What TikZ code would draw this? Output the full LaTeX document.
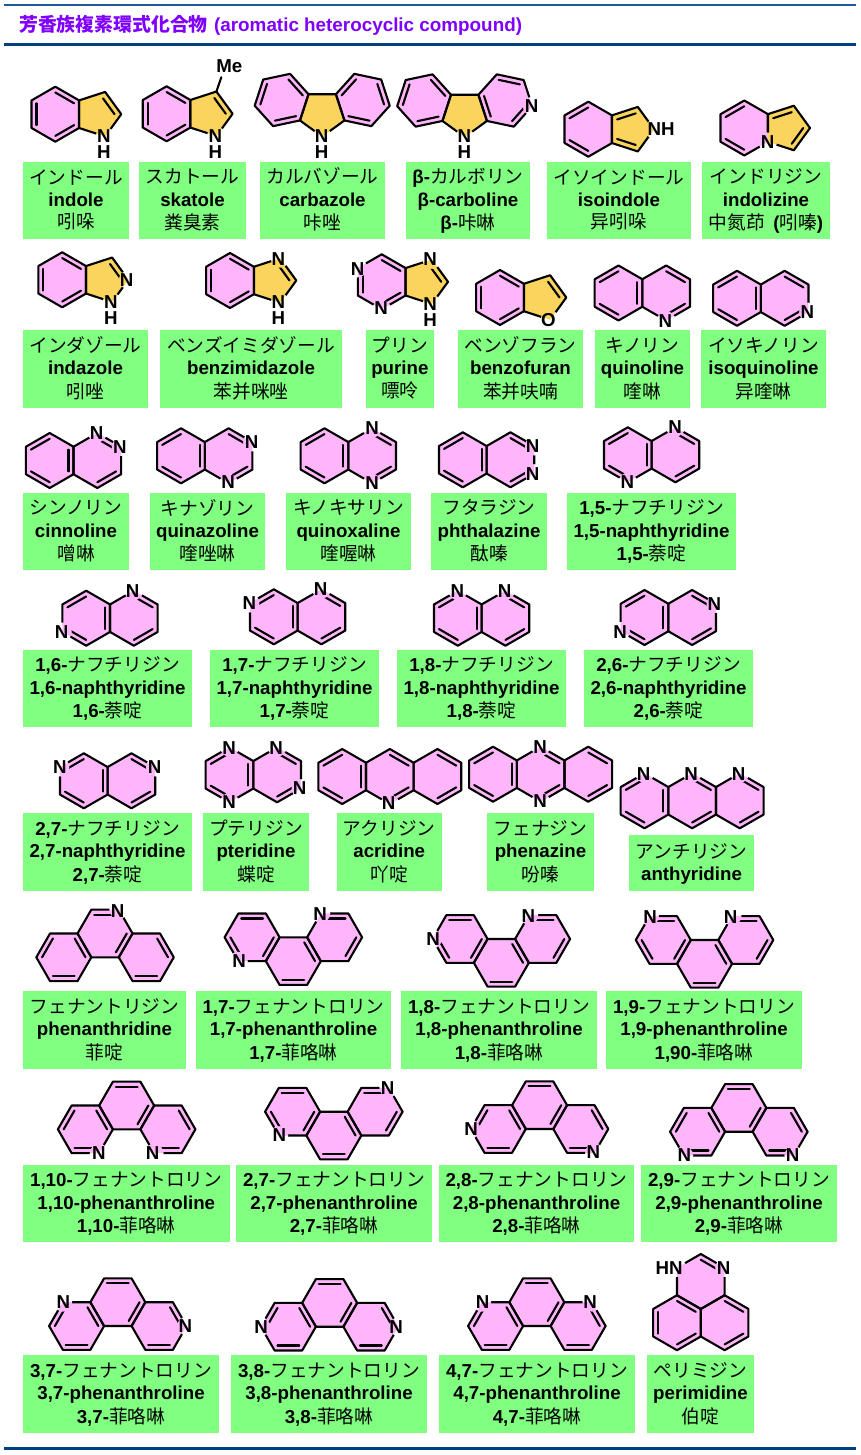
\documentclass[tikz,border=0pt]{standalone}
\usepackage{fontspec}
\usetikzlibrary{calc}
\setmainfont{Liberation Sans}
\newfontfamily\cjkjp{Noto Sans CJK JP}
\newfontfamily\cjkzh{Noto Sans CJK SC}
\definecolor{pinkring}{RGB}{255,181,250}
\definecolor{goldring}{RGB}{250,212,92}
\definecolor{boxgreen}{RGB}{128,255,128}
\definecolor{titlepurple}{RGB}{128,0,255}
\definecolor{ruleA}{RGB}{30,88,150}
\definecolor{ruleB}{RGB}{0,64,128}
\newcommand\J[1]{{\cjkjp\mdseries #1}}
\newcommand\Z[1]{{\cjkzh\mdseries #1}}
\newcount\atomcnt
\tikzset{
 bond/.style={line width=2.1pt,line join=round,line cap=round,black},
 hexfill/.style={fill=pinkring},
 penfill/.style={fill=goldring},
 labelbox/.style={fill=boxgreen,inner sep=0pt,align=center,text=black,font=\fontsize{18.7}{22.3}\selectfont\bfseries},
 atom/.style={inner sep=0pt,text=black,font=\fontsize{18.7}{20}\selectfont\bfseries},
 headrule/.style={line width=2pt,ruleA},
 mainrule/.style={line width=3.4pt,ruleB},
 titletext/.style={inner sep=0pt,anchor=west,text=titlepurple,font=\fontsize{18.85}{22}\selectfont\bfseries}
}
% rings
\newcommand\Hx[4]{%
 \foreach \i in {0,...,5}{\coordinate (#1\i) at ({#2+27.5*cos(#4-60*\i)},{#3-27.5*sin(#4-60*\i)});}%
 \coordinate (#1c) at (#2,#3);%
 \path[hexfill] (#10)--(#11)--(#12)--(#13)--(#14)--(#15)--cycle;}
\newcommand\Pn[4]{%
 \foreach \i in {0,...,4}{\coordinate (#1\i) at ({#2+23.4*cos(#4-72*\i)},{#3-23.4*sin(#4-72*\i)});}%
 \coordinate (#1c) at (#2,#3);%
 \path[penfill] (#10)--(#11)--(#12)--(#13)--(#14)--cycle;}
\newcommand\Oh[1]{\draw[bond] (#10)--(#11)--(#12)--(#13)--(#14)--(#15)--cycle;}
\newcommand\Op[1]{\draw[bond] (#10)--(#11)--(#12)--(#13)--(#14)--cycle;}
\newcommand\Dh[2]{\foreach \i in {#2}{\pgfmathtruncatemacro\j{mod(\i+1,6)}\draw[bond] ($(#1c)!.79!(#1\i)$)--($(#1c)!.79!(#1\j)$);}}
\newcommand\Dp[2]{\foreach \i in {#2}{\pgfmathtruncatemacro\j{mod(\i+1,5)}\draw[bond] ($(#1c)!.71!(#1\i)$)--($(#1c)!.71!(#1\j)$);}}
\newcommand\Cut[1]{(#1) circle[radius=9.5]}
\newcommand\Mol[3]{#1\begin{scope}[even odd rule]\clip (-10,-10) rectangle (871,1465) #2;#3\end{scope}}
\newcommand\At[2]{\global\advance\atomcnt by 1\node[atom] (atom\the\atomcnt) at (#1) {#2};}
% fused skeletons
\newcommand\Naph[3]{\Mol{\Hx{a}{#1}{#2}{90}\Hx{b}{#1+47.63}{#2}{90}}{#3}{\Oh{a}\Oh{b}\Dh{a}{5,3,1}\Dh{b}{0,2}}}
\newcommand\Anth[3]{\Mol{\Hx{a}{#1}{#2}{90}\Hx{b}{#1+47.63}{#2}{90}\Hx{c}{#1+95.26}{#2}{90}}{#3}{\Oh{a}\Oh{b}\Oh{c}\Dh{a}{5,3,1}\Dh{b}{0,2}\Dh{c}{0,2}}}
\newcommand\PhUp[3]{\Mol{\Hx{a}{#1-.4}{#2}{120}\Hx{b}{#1+40.85}{#2-23.82}{120}\Hx{c}{#1+82.1}{#2}{120}}{#3}{\Oh{a}\Oh{b}\Oh{c}\Dh{a}{5,3,1}\Dh{b}{0,2}\Dh{c}{1,3}}}
\newcommand\PhDn[3]{\Mol{\Hx{a}{#1-.4}{#2}{120}\Hx{b}{#1+40.85}{#2+23.82}{120}\Hx{c}{#1+82.1}{#2}{120}}{#3}{\Oh{a}\Oh{b}\Oh{c}\Dh{a}{0,2,4}\Dh{b}{3,1}\Dh{c}{0,2}}}
% label boxes
\newcommand\Lab[8]{\fill[boxgreen] ({#2},{#3}) rectangle ({#4},{#5});\node[labelbox,fill=none,minimum width={(#4-#2)*1pt},minimum height={(#5-#3)*1pt}] (#1) at ({(#2+#4)/2},{(#3+#5)/2+1.8}) {\strut #6\\\strut #7\\\strut #8};}
\newcommand\LabN[9]{\Lab{#1}{#2}{#3}{#4}{#5}{#6-\J{#7}}{#6-#8}{#6-\Z{#9}}}
\begin{document}
\begin{tikzpicture}[x=1pt,y=-1pt]
\useasboundingbox (0,0) rectangle (861,1455);
\fill[white] (0,0) rectangle (861,1455);
% rules and title
\coordinate (rl1) at (4,5.3);\coordinate (rr1) at (856,5.3);
\coordinate (rl2) at (4,44.5);\coordinate (rr2) at (856,44.5);
\coordinate (rl3) at (4,1448.7);\coordinate (rr3) at (856,1448.7);
\draw[headrule] (rl1)--(rr1);
\draw[mainrule] (rl2)--(rr2);
\draw[mainrule] (rl3)--(rr3);
\node[titletext] (title) at (19,25) {{\cjkjp 芳香族複素環式化合物}\hspace{1.2pt} (aromatic heterocyclic compound)};
% ---- row 1
\Mol{\Hx{a}{55.3}{114.2}{90}\Pn{b}{97.9}{114.2}{72}}{\Cut{b2}}{\Oh{a}\Op{b}\Dh{a}{0,2,4}\Dp{b}{0}}
\At{104,136}{N}\At{104,152}{H}
\Mol{\Hx{a}{166.6}{113.8}{90}\Pn{b}{209.2}{113.8}{72}}{\Cut{b2}}{\Oh{a}\Op{b}\Dh{a}{0,2,4}\Dp{b}{0}}
\At{215.3,136}{N}\At{215.3,152}{H}
\coordinate (skMeEnd) at (221.3,77.3);
\draw[bond] (b0)--(skMeEnd);
\node[atom] (skMe) at (229.3,66.3) {Me};
\Mol{\Hx{a}{281.6}{100}{132}\Hx{b}{362.8}{100}{168}\Pn{p}{322.2}{113.2}{126}}{\Cut{p3}}{\Oh{a}\Oh{b}\Op{p}\Dh{a}{5,1,3}\Dh{b}{0,2,4}}
\At{321.7,136}{N}\At{321.7,152}{H}
\Mol{\Hx{a}{424.1}{100.5}{132}\Hx{b}{505.3}{100.5}{168}\Pn{p}{464.7}{113.7}{126}}{\Cut{p3}\Cut{b3}}{\Oh{a}\Oh{b}\Op{p}\Dh{a}{5,1,3}\Dh{b}{1,3,5}}
\At{464.3,136}{N}\At{464.3,152}{H}\At{531.7,106}{N}
\Mol{\Hx{a}{588.3}{129.2}{90}\Pn{b}{630.6}{129.2}{72}}{\Cut{b1}}{\Oh{a}\Op{b}\Dh{a}{5,3}\Dp{b}{4,2}}
\At{661,129.3}{NH}
\Mol{\Hx{a}{744.3}{128}{90}\Pn{b}{786.6}{128}{72}}{\Cut{b3}}{\Oh{a}\Op{b}\Dh{a}{5,3}\Dp{b}{4,1}}
\At{767.7,142.5}{N}
% ---- row 2
\Mol{\Hx{a}{62.2}{279.8}{90}\Pn{b}{104.9}{279.8}{72}}{\Cut{b1}\Cut{b2}}{\Oh{a}\Op{b}\Dh{a}{0,2,4}\Dp{b}{0}}
\At{126.7,280}{N}\At{111,302.3}{N}\At{111,318.3}{H}
\Mol{\Hx{a}{230}{280.5}{90}\Pn{b}{272.9}{280.5}{72}}{\Cut{b0}\Cut{b2}}{\Oh{a}\Op{b}\Dh{a}{0,2,4}\Dp{b}{0}}
\At{278.3,259}{N}\At{278.3,302.3}{N}\At{278.3,318.3}{H}
\Mol{\Hx{a}{381.7}{281.8}{90}\Pn{b}{424.6}{281.8}{72}}{\Cut{a5}\Cut{a3}\Cut{b0}\Cut{b2}}{\Oh{a}\Op{b}\Dh{a}{0,2,4}\Dp{b}{0}}
\At{357.7,269}{N}\At{381,308.3}{N}\At{430,259}{N}\At{430,304}{N}\At{430,320}{H}
\Mol{\Hx{a}{500}{297.5}{90}\Pn{b}{542.9}{297.5}{72}}{\Cut{b2}}{\Oh{a}\Op{b}\Dh{a}{0,2,4}\Dp{b}{0}}
\At{548.3,320}{O}
\Naph{618.5}{293}{\Cut{b3}}\At{665.3,320.8}{N}
\Naph{737}{298.3}{\Cut{b2}}\At{807.3,311.7}{N}
% ---- row 3
\Naph{49.7}{460.5}{\Cut{b0}\Cut{b1}}\At{96.7,432.7}{N}\At{120,447.3}{N}
\Naph{181}{455.8}{\Cut{b1}\Cut{b3}}\At{251.7,441.7}{N}\At{228,482.3}{N}
\Naph{324.5}{455.8}{\Cut{b0}\Cut{b3}}\At{372,428.3}{N}\At{372,483.3}{N}
\Naph{462.8}{459.8}{\Cut{b1}\Cut{b2}}\At{532.6,446.5}{N}\At{532.6,474}{N}
\Naph{627.8}{454.8}{\Cut{a3}\Cut{b0}}\At{627.3,482.3}{N}\At{675,427.3}{N}
% ---- row 4
\Naph{86.2}{618.2}{\Cut{a4}\Cut{b0}}\At{61.7,631.7}{N}\At{132.7,590.7}{N}
\Naph{273.8}{616.8}{\Cut{a5}\Cut{b0}}\At{249.3,603.3}{N}\At{320.7,589.3}{N}
\Naph{457.8}{618.2}{\Cut{a0}\Cut{b0}}\At{457.3,590.7}{N}\At{504.6,590.7}{N}
\Naph{644.5}{617.5}{\Cut{a4}\Cut{b1}}\At{620,631.7}{N}\At{714.3,604.3}{N}
% ---- row 5
\Naph{83.8}{780.8}{\Cut{a5}\Cut{b1}}\At{60,767.3}{N}\At{154.5,767.3}{N}
\Naph{229.5}{774.8}{\Cut{a0}\Cut{a3}\Cut{b0}\Cut{b2}}\At{229,747.7}{N}\At{229,802}{N}\At{276,747.7}{N}\At{299.6,788.3}{N}
\Anth{342.2}{776.5}{\Cut{b3}}\At{388.6,803.5}{N}
\Anth{493}{774.2}{\Cut{b0}\Cut{b3}}\At{540,747.3}{N}\At{540,801.5}{N}
\Anth{644.5}{800.8}{\Cut{a0}\Cut{b0}\Cut{c0}}\At{643.5,774}{N}\At{691,774}{N}\At{738.5,774}{N}
% ---- row 6
\PhUp{64.2}{957.3}{\Cut{b1}}\At{117.7,910.7}{N}
\PhDn{252.5}{937.3}{\Cut{a4}\Cut{c0}}\At{239,961}{N}\At{320,914}{N}
\PhDn{460.5}{939}{\Cut{a5}\Cut{c0}}\At{433,939}{N}\At{528.3,916}{N}
\PhDn{663.7}{940}{\Cut{a0}\Cut{c0}}\At{650,917}{N}\At{730.7,917}{N}
% ---- row 7
\PhUp{85.8}{1129.3}{\Cut{a3}\Cut{c4}}\At{99,1152.7}{N}\At{152.7,1152.7}{N}
\PhDn{293}{1111.7}{\Cut{a4}\Cut{c1}}\At{279.3,1135}{N}\At{387.7,1088.3}{N}
\PhUp{498.7}{1129}{\Cut{a5}\Cut{c3}}\At{471,1129}{N}\At{593.3,1152.3}{N}
\PhUp{698}{1131.7}{\Cut{a4}\Cut{c3}}\At{684.3,1155.3}{N}\At{792.7,1155.3}{N}
% ---- row 8
\PhUp{77}{1326}{\Cut{a0}\Cut{c2}}\At{63.3,1302.3}{N}\At{185.3,1326}{N}
\PhUp{288.8}{1326.7}{\Cut{a5}\Cut{c2}}\At{261,1326.7}{N}\At{396,1326.7}{N}
\PhUp{496}{1326}{\Cut{a0}\Cut{c1}}\At{482.5,1302.3}{N}\At{590,1302.3}{N}
\Mol{\Hx{a}{677}{1322.7}{90}\Hx{b}{724.6}{1322.7}{90}\Hx{t}{700.8}{1281.5}{90}}{\Cut{t5}\Cut{t1}}{\Oh{a}\Oh{b}\Oh{t}\Dh{a}{4,0,2}\Dh{b}{0,2}\Dh{t}{0}}
\At{669,1268.3}{HN}\At{723.5,1268.3}{N}
% ---- labels
\Lab{lIndole}{23}{161.7}{129}{239}{\J{インドール}}{indole}{\Z{吲哚}}
\Lab{lSkatole}{139}{161.7}{246}{239}{\J{スカトール}}{skatole}{\Z{粪臭素}}
\Lab{lCarbazole}{260}{161.7}{385}{239}{\J{カルバゾール}}{carbazole}{\Z{咔唑}}
\LabN{lCarboline}{406}{161.7}{530}{239}{β}{カルボリン}{carboline}{咔啉}
\Lab{lIsoindole}{547}{161.7}{691}{239}{\J{イソインドール}}{isoindole}{\Z{异吲哚}}
\Lab{lIndolizine}{702}{161.7}{830}{239}{\J{インドリジン}}{indolizine}{\Z{中氮茚}\ \,(\Z{吲嗪})}
\Lab{lIndazole}{23}{330}{148}{407.7}{\J{インダゾール}}{indazole}{\Z{吲唑}}
\Lab{lBenzimid}{160}{330}{342}{407.7}{\J{ベンズイミダゾール}}{benzimidazole}{\Z{苯并咪唑}}
\Lab{lPurine}{365.7}{330}{434}{407.7}{\J{プリン}}{purine}{\Z{嘌呤}}
\Lab{lBenzofuran}{458}{330}{583}{407.7}{\J{ベンゾフラン}}{benzofuran}{\Z{苯并呋喃}}
\Lab{lQuinoline}{595}{330}{690}{407.7}{\J{キノリン}}{quinoline}{\Z{喹啉}}
\Lab{lIsoquinoline}{701}{330}{826}{407.7}{\J{イソキノリン}}{isoquinoline}{\Z{异喹啉}}
\Lab{lCinnoline}{23}{492.7}{129}{570.3}{\J{シンノリン}}{cinnoline}{\Z{噌啉}}
\Lab{lQuinazoline}{150}{492.7}{265}{570.3}{\J{キナゾリン}}{quinazoline}{\Z{喹唑啉}}
\Lab{lQuinoxaline}{286}{492.7}{411}{570.3}{\J{キノキサリン}}{quinoxaline}{\Z{喹喔啉}}
\Lab{lPhthalazine}{431}{492.7}{547}{570.3}{\J{フタラジン}}{phthalazine}{\Z{酞嗪}}
\LabN{lNaphA}{567}{492.7}{736}{570.3}{1,5}{ナフチリジン}{naphthyridine}{萘啶}
\LabN{lNaphB}{23}{650}{192}{727}{1,6}{ナフチリジン}{naphthyridine}{萘啶}
\LabN{lNaphC}{210}{650}{379}{727}{1,7}{ナフチリジン}{naphthyridine}{萘啶}
\LabN{lNaphD}{397}{650}{566}{727}{1,8}{ナフチリジン}{naphthyridine}{萘啶}
\LabN{lNaphE}{584}{650}{753}{727}{2,6}{ナフチリジン}{naphthyridine}{萘啶}
\LabN{lNaphF}{23}{813.3}{192}{891}{2,7}{ナフチリジン}{naphthyridine}{萘啶}
\Lab{lPteridine}{203}{813.3}{309}{891}{\J{プテリジン}}{pteridine}{\Z{蝶啶}}
\Lab{lAcridine}{336.5}{813.3}{442}{891}{\J{アクリジン}}{acridine}{\Z{吖啶}}
\Lab{lPhenazine}{487}{813.3}{594}{891}{\J{フェナジン}}{phenazine}{\Z{吩嗪}}
\fill[boxgreen] (629,835) rectangle (754,891);
\node[labelbox,fill=none,minimum width=125pt,minimum height=56pt] (lAnthyridine) at (691.5,864.8) {\strut\J{アンチリジン}\\\strut anthyridine};
\Lab{lPhenanthridine}{23}{991}{186}{1069}{\J{フェナントリジン}}{phenanthridine}{\Z{菲啶}}
\LabN{lPhenA}{196}{991}{391}{1069}{1,7}{フェナントロリン}{phenanthroline}{菲咯啉}
\LabN{lPhenB}{401}{991}{597}{1069}{1,8}{フェナントロリン}{phenanthroline}{菲咯啉}
\Lab{lPhenC}{606}{991}{802}{1069}{1,9-\J{フェナントロリン}}{1,9-phenanthroline}{1,90-\Z{菲咯啉}}
\LabN{lPhenD}{23}{1165}{229.5}{1242}{1,10}{フェナントロリン}{phenanthroline}{菲咯啉}
\LabN{lPhenE}{236}{1165}{432}{1242}{2,7}{フェナントロリン}{phenanthroline}{菲咯啉}
\LabN{lPhenF}{439}{1165}{634}{1242}{2,8}{フェナントロリン}{phenanthroline}{菲咯啉}
\LabN{lPhenG}{641}{1165}{837}{1242}{2,9}{フェナントロリン}{phenanthroline}{菲咯啉}
\LabN{lPhenH}{23}{1355}{219}{1433}{3,7}{フェナントロリン}{phenanthroline}{菲咯啉}
\LabN{lPhenI}{231}{1355}{427}{1433}{3,8}{フェナントロリン}{phenanthroline}{菲咯啉}
\LabN{lPhenJ}{439}{1355}{635}{1433}{4,7}{フェナントロリン}{phenanthroline}{菲咯啉}
\Lab{lPerimidine}{647}{1355}{754}{1433}{\J{ペリミジン}}{perimidine}{\Z{伯啶}}
\end{tikzpicture}
\end{document}
